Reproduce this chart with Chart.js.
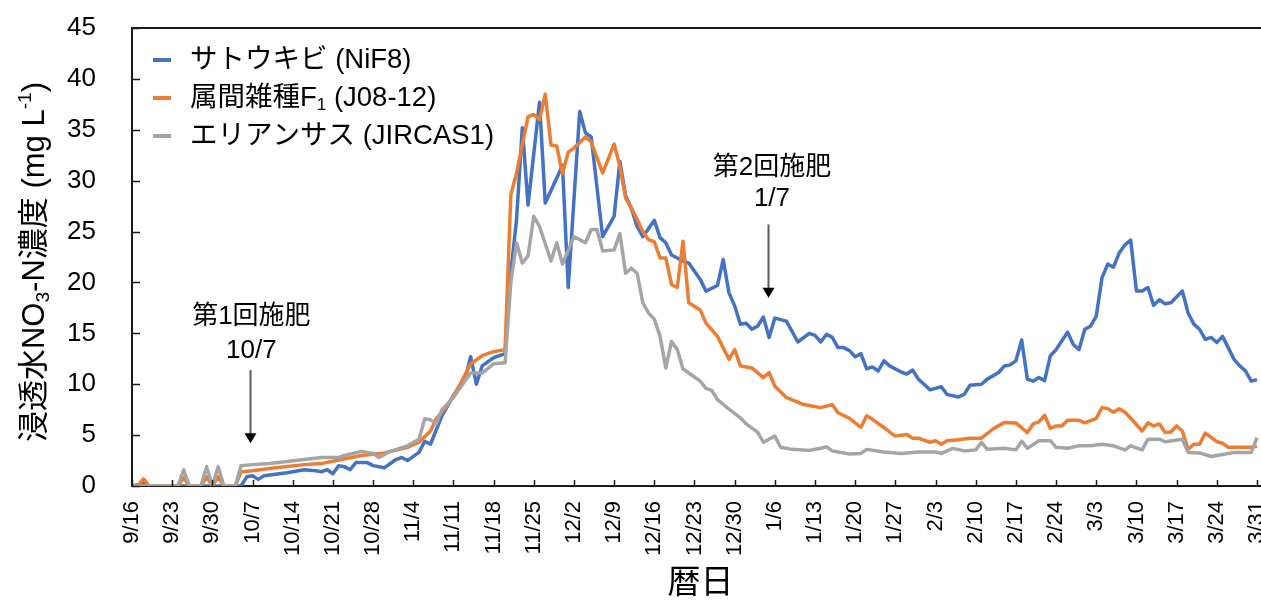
<!DOCTYPE html>
<html>
<head>
<meta charset="utf-8">
<script src="https://cdn.jsdelivr.net/npm/chart.js@4"></script>
<style>
  html, body { margin: 0; padding: 0; background: #fff; }
</style>
</head>
<body>
<canvas id="chart" width="1261" height="601"></canvas>
<script>
const FONT = '"Liberation Sans", Arial, "Noto Sans CJK JP", sans-serif';

// x axis: day 0 = 9/16, one label every 7 days
const tickLabels = ['9/16', '9/23', '9/30', '10/7', '10/14', '10/21', '10/28', '11/4', '11/11', '11/18',
    '11/25', '12/2', '12/9', '12/16', '12/23', '12/30', '1/6', '1/13', '1/20', '1/27',
    '2/3', '2/10', '2/17', '2/24', '3/3', '3/10', '3/17', '3/24', '3/31'];

const seriesNames = ['サトウキビ (NiF8)', '属間雑種F_{1} (J08-12)', 'エリアンサス (JIRCAS1)'];
const seriesColors = ['#4472C4', '#ED7D31', '#A5A5A5'];

const yTitle = '浸透水NO_{3}-N濃度 (mg L^{-1})';
const xTitle = '暦日';

// サトウキビ (NiF8)
const caneDays = [0, 2, 3, 19, 20, 21, 22, 23, 27, 30, 32, 33, 34, 35, 36, 37, 38, 39, 41, 42,
    44, 46, 47, 48, 50, 51, 52, 54, 56, 58, 59, 60, 61, 63, 65, 66, 67, 68, 69, 71,
    72, 75, 76, 78, 79, 80, 82, 84, 85, 86, 87, 88, 89, 91, 92, 93, 94, 96, 97, 99,
    100, 102, 103, 104, 105, 106, 107, 108, 109, 110, 111, 112, 114, 115, 116, 118, 119, 120, 121, 122,
    123, 124, 125, 126, 127, 128, 129, 130, 131, 132, 134, 135, 136, 137, 138, 139, 141, 142, 144, 145,
    146, 148, 149, 151, 152, 153, 154, 155, 156, 157, 158, 159, 160, 161, 163, 164, 165, 166, 167, 168,
    169, 170, 171, 172, 173, 174, 175, 176, 177, 178, 179, 180, 181, 183, 184, 185, 186, 187, 188, 189,
    190, 192, 193, 194, 195, 196];
const caneValues = [0, 0.25, 0, 0, 0.9, 1.0, 0.65, 1.0, 1.3, 1.6, 1.5, 1.4, 1.6, 1.2, 2.0, 1.9, 1.6, 2.3, 2.3, 2.0,
    1.8, 2.6, 2.8, 2.5, 3.3, 4.4, 4.1, 6.9, 8.9, 10.5, 12.7, 10.0, 11.8, 12.6, 13.0, 21.0, 26.2, 35.2, 27.6, 37.7,
    27.8, 31.5, 19.5, 36.8, 34.7, 34.3, 24.5, 26.5, 31.9, 28.5, 27.3, 25.5, 24.5, 26.1, 24.4, 23.9, 22.7, 22.1, 21.9, 20.3,
    19.15, 19.7, 22.25, 19.0, 17.7, 15.9, 16.0, 15.4, 15.7, 16.6, 14.6, 16.5, 16.2, 15.2, 14.15, 15.0, 14.8, 14.15, 14.9, 14.6,
    13.6, 13.6, 13.3, 12.7, 13.0, 11.5, 11.7, 11.3, 12.3, 11.8, 11.2, 11.0, 11.4, 10.5, 10.0, 9.45, 9.75, 9.0, 8.75, 9.0,
    9.9, 10.0, 10.5, 11.15, 11.8, 11.9, 12.3, 14.35, 10.5, 10.3, 10.65, 10.35, 12.8, 13.4, 15.1, 13.9, 13.4, 15.4, 15.7, 16.7,
    20.45, 21.8, 21.5, 22.9, 23.7, 24.15, 19.15, 19.15, 19.5, 17.75, 18.3, 17.9, 18.0, 19.15, 17.0, 15.9, 15.4, 14.4, 14.6, 14.1,
    14.7, 12.45, 11.8, 11.3, 10.3, 10.45];

// 属間雑種F1 (J08-12)
const hybridDays = [0, 1, 2, 3, 8, 9, 10, 12, 13, 14, 15, 16, 18, 19, 21, 25, 30, 33, 36, 40,
    44, 48, 50, 52, 53, 55, 57, 59, 61, 63, 65, 66, 67, 69, 70, 71, 72, 73, 74, 75,
    76, 77, 79, 80, 82, 84, 85, 86, 87, 88, 89, 90, 91, 92, 93, 94, 95, 96, 97, 99,
    100, 102, 104, 105, 106, 108, 110, 111, 112, 114, 117, 118, 120, 122, 123, 125, 127, 128, 129, 131,
    132, 133, 135, 136, 137, 139, 140, 141, 142, 144, 146, 148, 150, 152, 154, 156, 157, 158, 159, 160,
    161, 162, 163, 165, 166, 168, 169, 170, 171, 172, 173, 174, 176, 177, 178, 179, 180, 181, 182, 183,
    184, 185, 186, 187, 189, 190, 191, 195, 196];
const hybridValues = [0, 0, 0.7, 0, 0, 0.8, 0, 0, 0.9, 0, 0.9, 0, 0, 1.4, 1.5, 1.8, 2.1, 2.2, 2.55, 3.0,
    3.25, 3.8, 4.3, 5.4, 6.6, 7.95, 9.8, 12.0, 12.8, 13.2, 13.4, 28.6, 30.75, 36.3, 36.5, 36.0, 38.5, 33.5, 33.4, 30.7,
    32.8, 33.2, 34.3, 33.8, 30.75, 33.6, 31.4, 28.3, 27.3, 26.2, 25.0, 24.2, 24.0, 22.4, 22.4, 19.8, 19.5, 24.05, 18.0, 17.3,
    16.0, 14.7, 12.45, 13.4, 11.8, 11.6, 10.65, 11.15, 9.8, 8.7, 8.0, 7.9, 7.7, 8.0, 7.2, 6.65, 5.75, 6.9, 6.55, 5.75,
    5.3, 4.9, 5.05, 4.7, 4.7, 4.3, 4.45, 4.1, 4.45, 4.55, 4.7, 4.7, 5.6, 6.25, 6.2, 5.25, 6.1, 6.3, 6.95, 5.65,
    5.9, 5.9, 6.45, 6.45, 6.2, 6.65, 7.7, 7.6, 7.25, 7.6, 7.25, 6.65, 5.4, 6.2, 5.9, 6.1, 5.25, 5.3, 5.9, 5.4,
    3.6, 4.1, 4.1, 5.2, 4.35, 4.2, 3.8, 3.8, 3.9];

// エリアンサス (JIRCAS1)
const erianthusDays = [0, 8, 9, 10, 12, 13, 14, 15, 16, 18, 19, 21, 24, 27, 30, 33, 36, 37, 40, 42,
    43, 45, 48, 50, 51, 52, 53, 54, 56, 57, 59, 61, 63, 65, 66, 67, 68, 69, 70, 71,
    73, 74, 75, 77, 79, 80, 81, 82, 84, 85, 86, 87, 88, 89, 90, 91, 92, 93, 94, 95,
    96, 97, 99, 100, 101, 102, 104, 106, 107, 109, 110, 112, 113, 115, 118, 120, 121, 122, 125, 127,
    128, 131, 134, 137, 140, 141, 143, 145, 147, 148, 149, 152, 154, 155, 156, 158, 160, 161, 163, 165,
    167, 169, 171, 173, 174, 176, 177, 179, 180, 183, 184, 186, 188, 190, 192, 195, 196];
const erianthusValues = [0, 0, 1.6, 0, 0, 1.9, 0, 1.9, 0, 0, 2.0, 2.1, 2.2, 2.4, 2.6, 2.8, 2.8, 3.0, 3.4, 3.2,
    2.8, 3.4, 3.95, 4.6, 6.6, 6.5, 6.1, 7.5, 8.7, 9.5, 11.1, 11.1, 12.0, 12.1, 20.0, 23.9, 21.9, 22.6, 26.5, 25.5,
    22.1, 23.9, 21.8, 24.5, 23.9, 25.2, 25.2, 23.1, 23.2, 24.8, 20.9, 21.4, 20.9, 18.0, 17.0, 16.4, 14.7, 11.6, 14.2, 13.4,
    11.5, 11.1, 10.3, 9.6, 9.4, 8.5, 7.55, 6.7, 6.1, 5.3, 4.3, 4.9, 3.8, 3.6, 3.5, 3.7, 3.85, 3.45, 3.15, 3.2,
    3.6, 3.35, 3.2, 3.35, 3.35, 3.2, 3.7, 3.45, 3.55, 4.3, 3.6, 3.7, 3.55, 4.4, 3.7, 4.45, 4.45, 3.8, 3.7, 3.95,
    3.95, 4.1, 3.95, 3.55, 3.95, 3.55, 4.6, 4.6, 4.35, 4.6, 3.3, 3.25, 2.9, 3.1, 3.3, 3.3, 4.75];

const seriesDays = [caneDays, hybridDays, erianthusDays];
const seriesValues = [caneValues, hybridValues, erianthusValues];

// fertilizer notes (x in days, y in mg/L)
const notes = [
    { lines: ['第1回施肥', '10/7'], day: 20.5, textDay: 20.8, textY: [16.6, 13.3], from: 11.4, to: 4.2 },
    { lines: ['第2回施肥', '1/7'], day: 110.8, textDay: 111.5, textY: [31.3, 28.2], from: 25.7, to: 18.5 }
];

function parseRich(s) {
    const parts = [];
    const re = /([_^])\{([^}]*)\}/g;
    let last = 0, m;
    while ((m = re.exec(s))) {
        if (m.index > last) parts.push({ t: s.slice(last, m.index), k: 0 });
        parts.push({ t: m[2], k: m[1] === '_' ? 1 : -1 });
        last = re.lastIndex;
    }
    if (last < s.length) parts.push({ t: s.slice(last), k: 0 });
    return parts;
}

function drawRich(ctx, s, x, y, size, align) {
    const parts = parseRich(s);
    let w = 0;
    parts.forEach(p => {
        ctx.font = (p.k ? size * 0.62 : size) + 'px ' + FONT;
        p.w = ctx.measureText(p.t).width;
        w += p.w;
    });
    let cx = align === 'center' ? x - w / 2 : x;
    ctx.textAlign = 'left';
    ctx.textBaseline = 'middle';
    parts.forEach(p => {
        ctx.font = (p.k ? size * 0.62 : size) + 'px ' + FONT;
        const dy = p.k === 1 ? size * 0.28 : (p.k === -1 ? -size * 0.3 : 0);
        ctx.fillText(p.t, cx, y + dy);
        cx += p.w;
    });
}

const decorPlugin = {
    id: 'decor',
    afterDatasetsDraw(chart) {
        const ctx = chart.ctx;
        const area = chart.chartArea;
        const xs = chart.scales.x, ys = chart.scales.y;
        ctx.save();

        // top frame line and inner tick marks
        ctx.strokeStyle = '#1a1a1a';
        ctx.lineWidth = 2;
        ctx.beginPath();
        ctx.moveTo(area.left, area.top);
        ctx.lineTo(area.right, area.top);
        ctx.stroke();
        ctx.lineWidth = 1.5;
        ys.ticks.forEach(t => {
            const y = Math.round(ys.getPixelForValue(t.value)) + 0.5;
            ctx.beginPath();
            ctx.moveTo(area.left, y);
            ctx.lineTo(area.left + 8, y);
            ctx.stroke();
        });
        xs.ticks.forEach(t => {
            const x = Math.round(xs.getPixelForValue(t.value)) + 0.5;
            ctx.beginPath();
            ctx.moveTo(x, area.bottom);
            ctx.lineTo(x, area.bottom - 6);
            ctx.stroke();
        });

        // legend
        chart.data.datasets.forEach((ds, i) => {
            const y = 60 + i * 38;
            ctx.strokeStyle = ds.borderColor;
            ctx.lineWidth = 4;
            ctx.beginPath();
            ctx.moveTo(153, y);
            ctx.lineTo(171, y);
            ctx.stroke();
            ctx.fillStyle = '#000';
            drawRich(ctx, seriesNames[i], 190, y, 27.5, 'left');
        });

        // fertilizer notes
        notes.forEach(n => {
            const tx = xs.getPixelForValue(n.textDay);
            ctx.fillStyle = '#000';
            n.lines.forEach((line, j) => {
                drawRich(ctx, line, tx, ys.getPixelForValue(n.textY[j]), 26, 'center');
            });
            const ax = Math.round(xs.getPixelForValue(n.day)) + 0.5;
            const y0 = ys.getPixelForValue(n.from);
            const y1 = ys.getPixelForValue(n.to);
            ctx.strokeStyle = '#595959';
            ctx.lineWidth = 2;
            ctx.beginPath();
            ctx.moveTo(ax, y0);
            ctx.lineTo(ax, y1 - 8);
            ctx.stroke();
            ctx.fillStyle = '#000';
            ctx.beginPath();
            ctx.moveTo(ax - 6, y1 - 10);
            ctx.lineTo(ax + 6, y1 - 10);
            ctx.lineTo(ax, y1);
            ctx.closePath();
            ctx.fill();
        });

        // axis titles
        ctx.fillStyle = '#000';
        drawRich(ctx, xTitle, (area.left + area.right) / 2 + 4, 584, 33, 'center');
        ctx.translate(35, 262);
        ctx.rotate(-Math.PI / 2);
        drawRich(ctx, yTitle, 0, 0, 31, 'center');
        ctx.restore();
    }
};

Chart.defaults.font.family = FONT;
Chart.defaults.color = '#000';

new Chart(document.getElementById('chart'), {
    type: 'line',
    data: {
        datasets: seriesNames.map((name, i) => ({
            label: name,
            data: seriesDays[i].map((d, j) => ({ x: d, y: seriesValues[i][j] })),
            borderColor: seriesColors[i],
            backgroundColor: seriesColors[i],
            borderWidth: 3.5,
            borderJoinStyle: 'round',
            pointRadius: 0,
            tension: 0,
            fill: false,
            order: 2 - i
        }))
    },
    options: {
        responsive: false,
        devicePixelRatio: 1,
        animation: false,
        events: [],
        layout: { padding: { top: 28, right: 0, left: 0, bottom: 0 } },
        plugins: {
            legend: { display: false },
            tooltip: { enabled: false }
        },
        scales: {
            x: {
                type: 'linear',
                min: 0,
                max: 196.7,
                afterBuildTicks: scale => {
                    scale.ticks = tickLabels.map((_, i) => ({ value: i * 7 }));
                },
                afterFit: scale => {
                    scale.height = 115;
                    scale.paddingLeft = 0;
                    scale.paddingRight = 0;
                },
                grid: { display: false, drawTicks: false },
                border: { display: true, color: '#1a1a1a', width: 2 },
                ticks: {
                    autoSkip: false,
                    minRotation: 90,
                    maxRotation: 90,
                    padding: 15,
                    font: { size: 22 },
                    color: '#000',
                    callback: (value, index) => tickLabels[index]
                }
            },
            y: {
                min: 0,
                max: 45,
                afterFit: scale => {
                    scale.width = 132;
                    scale.paddingTop = 0;
                    scale.paddingBottom = 0;
                },
                grid: { display: false, drawTicks: false },
                border: { display: true, color: '#1a1a1a', width: 2 },
                ticks: {
                    stepSize: 5,
                    padding: 36,
                    font: { size: 26 },
                    color: '#000'
                }
            }
        }
    },
    plugins: [decorPlugin]
});
</script>
</body>
</html>
